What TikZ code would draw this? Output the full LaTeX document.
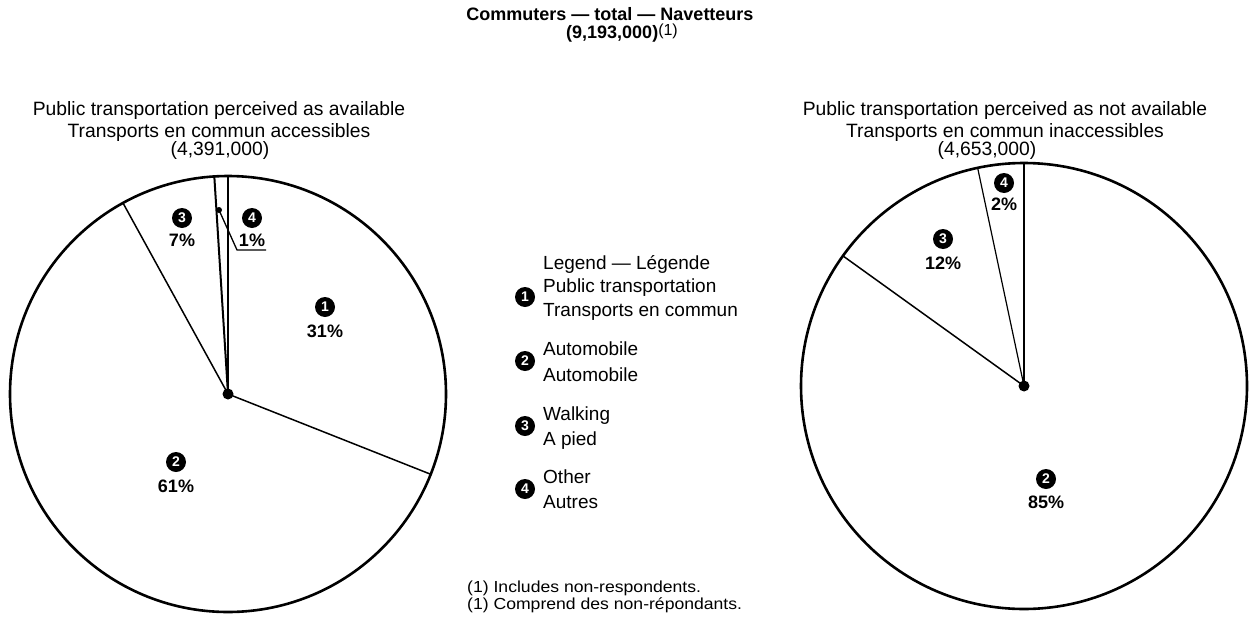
\documentclass[tikz,border=0pt]{standalone}
\usepackage{fontspec}
\setmainfont{Liberation Sans}
\begin{document}
\begin{tikzpicture}[x=1pt,y=1pt,
  hd/.style={font=\fontsize{19.3}{22}\selectfont, inner sep=0pt, anchor=base},
  ttl/.style={font=\bfseries\fontsize{18}{21}\selectfont, inner sep=0pt, anchor=base},
  lg/.style={font=\fontsize{19}{22}\selectfont, inner sep=0pt, anchor=base west},
  fn/.style={font=\fontsize{16}{17}\selectfont, inner sep=0pt, anchor=base west},
  pct/.style={font=\bfseries\fontsize{18}{21}\selectfont, inner sep=0pt, anchor=base},
  num/.style={circle, fill=black, text=white, font=\bfseries\fontsize{14}{14}\selectfont,
    inner sep=0pt, minimum size=20pt, anchor=center},
  rim/.style={line width=2.6pt},
  spoke/.style={line width=1.5pt},
  bigspoke/.style={line width=2.8pt}]
\useasboundingbox (0,0) rectangle (1252,-621);
\fill[white] (0,0) rectangle (1252,-621);

% title
\node[ttl] (t1) at (610,-20.5) {Commuters --- total --- Navetteurs};
\node[ttl] (t2) at (622,-38.5) {(9,193,000)\raisebox{3pt}{\mdseries\fontsize{16}{18}\selectfont(1)}};

% headings
\node[hd] (lh1) at (219,-115) {Public transportation perceived as available};
\node[hd] (lh2) at (219,-137) {Transports en commun accessibles};
\node[hd] (lh3) at (220,-155) {(4,391,000)};
\node[hd] (rh1) at (1005,-115) {Public transportation perceived as not available};
\node[hd] (rh2) at (1005,-137) {Transports en commun inaccessibles};
\node[hd] (rh3) at (987,-155) {(4,653,000)};

% left pie
\coordinate (L) at (228,-394);
\draw[rim] (L) circle[radius=218];
\draw[bigspoke] (L) -- ++(90:218);
\draw[line width=2pt] (L) -- ++(93.6:218);
\draw[spoke] (L) -- ++(118.8:218);
\draw[spoke] (L) -- ++(-21.6:218);
\fill (L) circle[radius=5.5];

\node[num] (l1n) at (325,-307) {1};
\node[pct] (l1p) at (325,-337) {31\%};
\node[num] (l2n) at (176,-462) {2};
\node[pct] (l2p) at (176,-492) {61\%};
\node[num] (l3n) at (182,-218) {3};
\node[pct] (l3p) at (182,-246) {7\%};
\node[num] (l4n) at (252,-218) {4};
\node[pct] (l4p) at (252,-246) {1\%};
\coordinate (ul) at (237,-250);
\coordinate (ur) at (266,-250);
\coordinate (d4) at (219,-210);
\draw[line width=1.3pt] (ur) -- (ul) -- (d4);
\fill (d4) circle[radius=3];

% right pie
\coordinate (R) at (1024,-386);
\draw[rim] (R) circle[radius=223];
\draw[bigspoke] (R) -- ++(90:223);
\draw[line width=1.2pt] (R) -- ++(102:223);
\draw[spoke] (R) -- ++(144.3:223);
\fill (R) circle[radius=5.5];

\node[num] (r4n) at (1004,-183) {4};
\node[pct] (r4p) at (1004,-210.5) {2\%};
\node[num] (r3n) at (943,-239) {3};
\node[pct] (r3p) at (943,-269) {12\%};
\node[num] (r2n) at (1046,-479) {2};
\node[pct] (r2p) at (1046,-508) {85\%};

% legend
\node[lg] (lgt) at (543,-269) {Legend --- Légende};
\node[num] (b1) at (525,-297) {1};
\node[lg] (g1a) at (543,-292) {Public transportation};
\node[lg] (g1b) at (543,-316) {Transports en commun};
\node[num] (b2) at (525,-361) {2};
\node[lg] (g2a) at (543,-355) {Automobile};
\node[lg] (g2b) at (543,-381) {Automobile};
\node[num] (b3) at (525,-426) {3};
\node[lg] (g3a) at (543,-420) {Walking};
\node[lg] (g3b) at (543,-445) {A pied};
\node[num] (b4) at (525,-489) {4};
\node[lg] (g4a) at (543,-483) {Other};
\node[lg] (g4b) at (543,-508) {Autres};

% footnotes
\node[fn] (f1) at (467,-592) {\scalebox{1.1}[1]{(1) Includes non-respondents.}};
\node[fn] (f2) at (467,-609) {\scalebox{1.1}[1]{(1) Comprend des non-répondants.}};
\end{tikzpicture}
\end{document}
